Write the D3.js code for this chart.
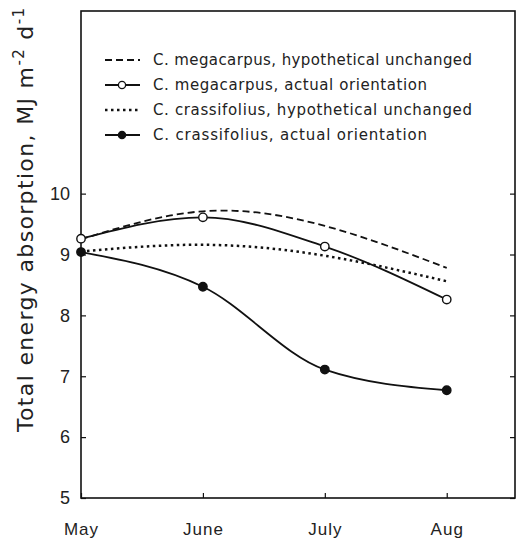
<!DOCTYPE html>
<html>
<head>
<meta charset="utf-8">
<script src="https://cdn.jsdelivr.net/npm/d3@7"></script>
<style>
  body { margin: 0; background: #fff; }
  svg { display: block; font-family: "DejaVu Sans", sans-serif; }
</style>
</head>
<body>
<svg id="chart" width="518" height="540"></svg>
<script>
// Data
const months = ["May", "June", "July", "Aug"];
const monthIdx = [0, 1, 2, 3];
const yTicks = [5, 6, 7, 8, 9, 10];
const megaHypo = [9.25, 9.71, 9.47, 8.78];
const megaActual = [9.26, 9.61, 9.13, 8.26];
const crassHypo = [9.05, 9.16, 8.98, 8.56];
const crassActual = [9.04, 8.47, 7.11, 6.77];
const legendLabels = [
    "C. megacarpus, hypothetical unchanged",
    "C. megacarpus, actual orientation",
    "C. crassifolius, hypothetical unchanged",
    "C. crassifolius, actual orientation"
];

const svg = d3.select('#chart');
const plotLeft = 81, plotRight = 515, plotTop = 11, plotBottom = 498;

const x = d3.scaleLinear().domain([0, 3.56]).range([plotLeft, plotRight]);
const y = d3.scaleLinear().domain([5, 13]).range([plotBottom, plotTop]);

// Frame
svg.append('rect')
    .attr('x', plotLeft).attr('y', plotTop)
    .attr('width', plotRight - plotLeft).attr('height', plotBottom - plotTop)
    .attr('fill', 'none').attr('stroke', '#111').attr('stroke-width', 1.6);

// Axes (inward ticks)
const yAxis = d3.axisLeft(y).tickValues(yTicks).tickSize(-5).tickPadding(11).tickFormat(d3.format('d'));
svg.append('g')
    .attr('transform', `translate(${plotLeft},0)`)
    .call(yAxis)
    .call(g => g.select('.domain').remove())
    .call(g => g.selectAll('text').attr('font-size', 18).attr('fill', '#222'));

svg.append('g')
    .attr('transform', `translate(${plotRight},0)`)
    .call(d3.axisRight(y).tickValues(yTicks).tickSize(-5).tickFormat(''))
    .call(g => g.select('.domain').remove());

const xAxis = d3.axisBottom(x).tickValues(monthIdx).tickSize(-5).tickPadding(25)
    .tickFormat(i => months[i]);
svg.append('g')
    .attr('transform', `translate(0,${plotBottom})`)
    .call(xAxis)
    .call(g => g.select('.domain').remove())
    .call(g => g.selectAll('text').attr('font-size', 17).attr('letter-spacing', 1).attr('fill', '#222'));

svg.selectAll('.tick line').attr('stroke', '#111').attr('stroke-width', 1.2);

// Y axis title
const title = svg.append('text')
    .attr('transform', 'translate(33,220) rotate(-90)')
    .attr('text-anchor', 'middle')
    .attr('font-size', 22)
    .attr('fill', '#222')
    .attr('textLength', 424)
    .attr('lengthAdjust', 'spacing');
title.append('tspan').text('Total energy absorption, MJ m');
title.append('tspan').attr('font-size', 15).attr('dy', -9).text('-2');
title.append('tspan').attr('dy', 9).text(' d');
title.append('tspan').attr('font-size', 15).attr('dy', -9).text('-1');

// Series
const series = [
    {values: megaHypo, dash: '7,4', curve: d3.curveNatural, marker: null},
    {values: megaActual, dash: null, curve: d3.curveMonotoneX, marker: 'open'},
    {values: crassHypo, dash: '2.5,3.5', curve: d3.curveNatural, marker: null},
    {values: crassActual, dash: null, curve: d3.curveMonotoneX, marker: 'filled'}
];

series.forEach(s => {
    const line = d3.line()
        .x((d, i) => x(monthIdx[i]))
        .y(d => y(d))
        .curve(s.curve);
    svg.append('path')
        .datum(s.values)
        .attr('d', line)
        .attr('fill', 'none')
        .attr('stroke', '#111')
        .attr('stroke-width', s.dash === '2.5,3.5' ? 2.5 : 1.8)
        .attr('stroke-dasharray', s.dash);
    if (s.marker) {
        svg.selectAll(null)
            .data(s.values)
            .enter()
            .append('circle')
            .attr('cx', (d, i) => x(monthIdx[i]))
            .attr('cy', d => y(d))
            .attr('r', 4.2)
            .attr('fill', s.marker === 'open' ? '#fff' : '#111')
            .attr('stroke', '#111')
            .attr('stroke-width', 1.4);
    }
});

// Legend
const legendWidths = [319, 274, 319, 274];
const legend = svg.append('g');
series.forEach((s, i) => {
    const ly = 60 + i * 25;
    legend.append('line')
        .attr('x1', 105).attr('x2', 140)
        .attr('y1', ly).attr('y2', ly)
        .attr('stroke', '#111')
        .attr('stroke-width', s.dash === '2.5,3.5' ? 2.5 : 1.8)
        .attr('stroke-dasharray', s.dash);
    if (s.marker) {
        legend.append('circle')
            .attr('cx', 122).attr('cy', ly).attr('r', 3.6)
            .attr('fill', s.marker === 'open' ? '#fff' : '#111')
            .attr('stroke', '#111').attr('stroke-width', 1.3);
    }
    legend.append('text')
        .attr('x', 153).attr('y', ly + 5)
        .attr('font-size', 15)
        .attr('fill', '#222')
        .attr('textLength', legendWidths[i])
        .attr('lengthAdjust', 'spacing')
        .text(legendLabels[i]);
});
</script>
</body>
</html>
